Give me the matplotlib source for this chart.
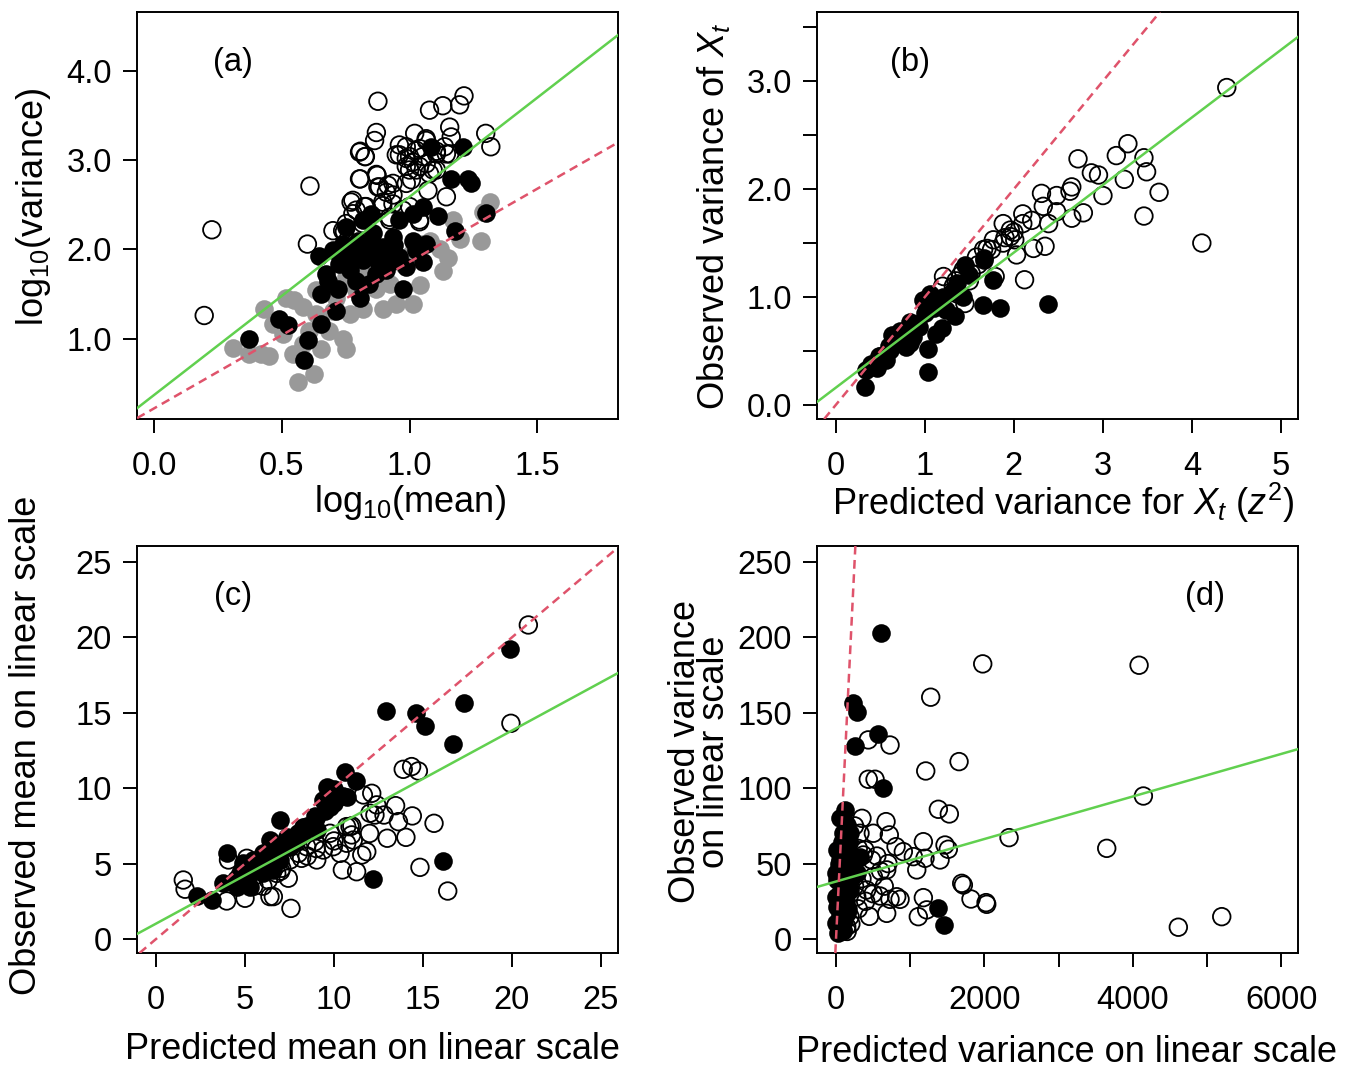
import matplotlib
matplotlib.use("Agg")
import matplotlib.pyplot as plt

plt.rcParams["font.family"] = ["Liberation Sans", "DejaVu Sans"]
plt.rcParams["mathtext.fontset"] = "custom"
plt.rcParams["mathtext.rm"] = "Liberation Sans"
plt.rcParams["mathtext.it"] = "Liberation Sans:italic"

GREEN = "#61D04F"
RED = "#DF536B"
GRAY = "#999999"

# ---- panel (a): log10(mean) vs log10(variance)
a_open_x = [0.226, 0.196, 0.61, 0.60, 0.876, 0.87, 0.863, 0.804, 0.825, 0.804, 0.87, 0.771, 0.824,
            0.778, 0.70, 0.738, 0.882, 0.909, 0.935, 0.895, 0.935, 0.96, 0.987, 1.02, 0.96, 1.0,
            1.026, 1.065, 1.078, 1.13, 1.196, 1.213, 1.157, 1.163, 1.137, 1.105, 1.298, 1.318, 1.0,
            1.039, 1.078, 1.105, 0.987, 1.072, 1.144, 1.039, 0.974, 0.922, 0.817, 0.752, 1.052,
            1.013, 1.157, 0.807, 0.827, 0.807, 0.873, 0.948, 0.987, 1.065, 1.039, 1.105, 1.144,
            0.987, 1.026, 1.065, 1.092, 1.007, 0.876, 0.915, 0.935, 0.895, 0.778, 0.791, 0.830,
            0.745, 0.922, 1.039, 1.0, 0.843]
a_open_y = [2.22, 1.26, 2.71, 2.06, 3.66, 3.31, 3.22, 3.09, 3.04, 2.79, 2.84, 2.53, 2.48,
            2.40, 2.21, 2.21, 2.70, 2.64, 2.74, 2.53, 2.51, 3.17, 3.15, 3.30, 3.06, 3.04,
            3.11, 3.24, 3.56, 3.61, 3.62, 3.72, 3.37, 3.26, 3.15, 3.07, 3.30, 3.15, 2.89,
            2.93, 2.85, 2.89, 2.74, 2.66, 2.59, 2.33, 2.44, 2.36, 2.29, 2.29, 3.04,
            2.98, 3.07, 3.10, 3.04, 2.79, 2.83, 3.06, 3.02, 3.22, 3.13, 3.10, 3.07,
            2.93, 2.89, 2.96, 2.89, 2.78, 2.70, 2.72, 2.61, 2.49, 2.55, 2.44, 2.48,
            2.20, 2.33, 2.31, 2.48, 2.10]
a_fill_x = [0.37, 0.49, 0.523, 0.601, 0.588, 0.654, 0.712, 0.654, 0.68, 0.719, 0.647, 0.70, 0.738,
            0.725, 0.765, 0.791, 0.804, 0.843, 0.778, 0.817, 0.856, 0.895, 0.935, 0.83, 0.856,
            0.817, 0.85, 0.882, 0.922, 0.96, 0.987, 1.026, 1.052, 0.974, 0.96, 1.013, 1.052,
            1.111, 1.176, 1.163, 1.229, 1.242, 1.209, 1.085, 1.30, 1.013, 1.065, 0.752, 0.673,
            0.87, 0.909, 0.80, 0.86, 0.90, 0.94, 0.76]
a_fill_y = [1.0, 1.22, 1.15, 0.98, 0.76, 1.17, 1.31, 1.50, 1.65, 1.56, 1.93, 1.99, 2.06,
            1.84, 1.77, 1.65, 1.46, 1.61, 1.95, 1.88, 1.95, 2.03, 2.14, 2.03, 2.18,
            2.33, 2.40, 1.84, 1.86, 1.91, 1.80, 1.99, 1.86, 1.56, 2.33, 2.40, 2.48,
            2.38, 2.21, 2.79, 2.79, 2.74, 3.15, 3.15, 2.41, 2.10, 2.06, 2.25, 1.73,
            1.73, 1.77, 2.10, 2.00, 1.92, 2.05, 1.90]
a_gray_x = [0.307, 0.418, 0.451, 0.431, 0.464, 0.549, 0.542, 0.562, 0.627, 0.654, 0.752, 0.738,
            0.686, 0.608, 0.582, 0.634, 0.70, 0.765, 0.817, 0.895, 0.948, 1.013, 1.039, 0.922,
            0.87, 0.817, 0.752, 1.052, 1.078, 1.118, 1.15, 1.17, 1.196, 1.281, 1.314, 1.287,
            1.13, 0.974, 0.895, 0.516, 0.503, 0.582, 0.373, 1.007, 0.712, 0.791, 0.673, 0.634]
a_gray_y = [0.90, 0.83, 0.81, 1.33, 1.16, 1.43, 0.83, 0.51, 0.60, 0.88, 0.88, 1.0,
            1.09, 1.09, 1.35, 1.54, 1.31, 1.28, 1.33, 1.33, 1.39, 1.39, 1.60, 1.61,
            1.56, 1.73, 1.69, 2.06, 2.10, 2.01, 1.90, 2.33, 2.12, 2.10, 2.53, 2.42,
            1.76, 1.84, 1.88, 1.46, 1.05, 0.94, 0.83, 1.95, 1.46, 1.54, 1.58, 1.28]
a_fit = (0.37, 2.22)    # intercept, slope (green)
a_ref = (0.22, 1.64)    # dashed red
a_xticks = [0.0, 0.5, 1.0, 1.5]
a_xlabels = ["0.0", "0.5", "1.0", "1.5"]
a_yticks = [1.0, 2.0, 3.0, 4.0]
a_ylabels = ["1.0", "2.0", "3.0", "4.0"]

# ---- panel (b): predicted vs observed variance of X_t
b_open_x = [4.39, 3.28, 3.15, 3.46, 3.49, 2.72, 2.87, 2.95, 3.24, 3.63, 3.00, 3.46, 4.11, 2.78,
            2.65, 2.65, 2.63, 2.48, 2.31, 2.33, 2.48, 2.10, 2.20, 2.39, 2.10, 2.35, 2.22, 2.03,
            1.96, 2.01, 1.77, 1.88, 1.75, 2.12, 1.58, 1.43, 1.52, 1.79, 1.21, 1.32, 1.45, 1.36,
            1.88, 1.96, 1.66, 1.20, 1.40, 1.60, 1.70, 1.90, 2.00, 1.50, 1.35]
b_open_y = [2.94, 2.42, 2.31, 2.29, 2.16, 2.28, 2.15, 2.13, 2.09, 1.97, 1.94, 1.75, 1.50, 1.78,
            1.73, 2.02, 1.98, 1.94, 1.96, 1.84, 1.79, 1.77, 1.71, 1.68, 1.68, 1.47, 1.45, 1.39,
            1.56, 1.53, 1.53, 1.50, 1.44, 1.16, 1.37, 1.25, 1.22, 1.19, 1.19, 1.10, 0.94, 1.03,
            1.68, 1.62, 1.44, 1.10, 1.20, 1.30, 1.45, 1.55, 1.60, 1.15, 1.15]
b_fill_x = [0.33, 1.04, 1.04, 1.84, 1.65, 2.38, 1.67, 1.34, 1.19, 0.83, 0.79, 0.64, 0.57, 0.46,
            0.34, 1.06, 1.13, 1.24, 0.94, 1.02, 0.72, 0.87, 0.61, 0.49, 1.36, 1.77, 1.13, 0.83,
            1.43, 0.98, 1.66, 0.63, 0.50, 0.70, 0.90, 1.10, 1.20, 1.30, 0.60, 1.00, 1.50, 1.45,
            0.40]
b_fill_y = [0.17, 0.31, 0.52, 0.90, 0.93, 0.94, 1.36, 0.82, 0.71, 0.77, 0.54, 0.62, 0.42, 0.34,
            0.32, 1.03, 0.94, 0.88, 0.72, 0.88, 0.69, 0.63, 0.51, 0.45, 1.13, 1.16, 0.66, 0.57,
            1.00, 0.97, 1.34, 0.65, 0.45, 0.60, 0.75, 0.90, 1.00, 1.05, 0.55, 0.85, 1.20, 1.30,
            0.38]
b_fit = (0.16, 0.626)
b_xticks = [0, 1, 2, 3, 4, 5]
b_xlabels = ["0", "1", "2", "3", "4", "5"]
b_yticks = [0.0, 0.5, 1.0, 1.5, 2.0, 2.5, 3.0, 3.5]
b_ylabels = ["0.0", "", "1.0", "", "2.0", "", "3.0", ""]

# ---- panel (c): predicted vs observed mean, linear scale
c_open_x = [20.92, 19.94, 13.89, 14.36, 14.74, 15.62, 14.83, 16.39, 13.46, 14.40, 13.62, 14.04,
            12.99, 12.81, 12.30, 12.12, 11.65, 12.40, 11.27, 10.47, 11.84, 11.56, 10.99, 11.08,
            10.71, 10.90, 9.96, 9.40, 9.03, 10.34, 10.71, 7.58, 6.40, 6.59, 5.0, 3.97, 1.53,
            1.63, 7.43, 6.31, 8.0, 8.46, 8.93, 7.53, 7.06, 5.66, 5.10, 4.07, 9.78, 8.18, 6.78,
            12.02, 6.0, 7.0, 9.0, 10.0, 8.5, 11.0, 12.0, 5.5]
c_open_y = [20.82, 14.30, 11.25, 11.43, 11.14, 7.67, 4.75, 3.18, 8.84, 8.16, 7.78, 6.74,
            6.68, 8.22, 8.22, 9.66, 9.55, 8.89, 4.46, 4.58, 5.79, 5.57, 6.90, 6.56,
            6.35, 7.45, 6.12, 5.90, 5.24, 5.68, 7.45, 2.03, 2.81, 2.81, 2.70, 2.52, 3.91,
            3.30, 4.03, 3.91, 5.68, 6.12, 6.45, 5.24, 4.69, 4.24, 5.35, 5.24, 7.01, 5.35, 4.35,
            8.34, 3.5, 4.5, 6.0, 6.5, 5.5, 7.5, 7.0, 3.5]
c_fill_x = [19.89, 17.32, 12.92, 14.61, 15.11, 16.67, 16.14, 12.21, 10.62, 11.24, 9.99, 9.40,
            8.93, 9.78, 6.97, 8.28, 7.90, 6.40, 3.97, 2.29, 3.13, 3.78, 4.72, 5.47, 6.03, 6.97,
            5.28, 4.53, 6.59, 7.53, 8.28, 9.03, 6.03, 4.91, 10.71, 7.34, 9.59, 5.5, 6.0, 7.0,
            8.0, 8.5, 9.0, 6.5, 7.5, 10.0, 10.5, 4.5, 5.0, 9.5]
c_fill_y = [19.21, 15.63, 15.12, 14.97, 14.15, 12.93, 5.17, 3.98, 11.09, 10.50, 9.92, 9.22,
            8.16, 8.77, 7.89, 7.01, 6.56, 6.56, 5.68, 2.85, 2.59, 3.69, 4.35, 5.24, 5.68, 5.24,
            3.47, 3.47, 4.58, 6.12, 7.45, 7.23, 4.35, 5.02, 9.44, 6.78, 10.10, 4.5, 5.0, 6.0,
            7.0, 7.5, 8.0, 5.5, 6.5, 9.0, 9.5, 4.0, 4.8, 8.5]
c_fit = (1.02, 0.64)
c_ticks = [0, 5, 10, 15, 20, 25]
c_labels = ["0", "5", "10", "15", "20", "25"]

# ---- panel (d): predicted vs observed variance, linear scale
d_open_x = [1977, 4084, 1276, 1658, 1209, 4142, 3648, 2332, 4613, 5198, 728, 435, 435, 526,
            1379, 1527, 674, 718, 809, 907, 1177, 1469, 1513, 1042, 1199, 1402, 1088, 683, 503,
            1694, 1716, 1819, 2022, 2031, 1177, 1222, 1109, 683, 863, 728, 593, 368, 323, 503,
            391, 481, 413, 279, 233, 189, 144, 818, 250, 300, 350, 400, 450, 500, 550, 300, 200,
            150, 600, 650, 700, 250, 350]
d_open_y = [182.4, 181.5, 160.3, 117.6, 111.4, 94.8, 60.1, 67.2, 7.8, 14.8, 128.6, 132, 105.9,
            105.9, 86, 82.9, 77.8, 69, 61.2, 57.9, 64.5, 62.3, 59.5, 54.6, 53.5, 52.4, 45.8,
            45.8, 41.3, 36.9, 35.8, 26.5, 24.1, 23.0, 27.4, 19.3, 14.8, 17.0, 26.3, 26.3, 28.5,
            55.7, 70.1, 70.1, 59, 52.4, 32.5, 28, 43.6, 14.8, 8.2, 28, 35, 20, 40, 25, 15, 30,
            55, 60, 10, 5, 45, 35, 50, 75, 80]
d_fill_x = [606, 233, 279, 256, 562, 629, 1379, 1460, 121, 144, 77, 189, 54, 98, 233, 9, 54, 9,
            0, 31, 98, 144, 189, 279, 2, 323, 0, 9, 77, 60, 100, 120, 150, 80, 130, 160, 60,
            100, 200, 220, 250, 40, 180, 110, 70, 140]
d_fill_y = [203.1, 156.3, 150.7, 128, 135.9, 99.9, 20.3, 9.3, 85.5, 75.6, 64.5, 70, 52.4, 45.8,
            52.4, 39.1, 30.3, 21.4, 10.4, 3.8, 6, 17, 32.5, 43.6, 28, 54.6, 43.6, 59, 14.8, 80,
            70, 60, 48, 35, 25, 20, 15, 5, 40, 55, 45, 50, 65, 12, 25, 38]
d_fit = (38.1, 0.0141)
d_xticks = [0, 1000, 2000, 3000, 4000, 5000, 6000]
d_xlabels = ["0", "", "2000", "", "4000", "", "6000"]
d_yticks = [0, 50, 100, 150, 200, 250]
d_ylabels = ["0", "50", "100", "150", "200", "250"]

MS_OPEN = 160
MS_FILL = 180
LW_PT = 1.3
TICK_FS = 23.5
LAB_FS = 26


def style(ax):
    for s in ax.spines.values():
        s.set_linewidth(1.4)
    ax.tick_params(direction="out", length=10, width=1.4, labelsize=TICK_FS)
    ax.tick_params(axis="x", pad=13)
    ax.tick_params(axis="y", pad=8)


def points(ax, ox, oy, fx, fy, gx=None, gy=None):
    if gx is not None:
        ax.scatter(gx, gy, s=MS_FILL, color=GRAY, linewidths=0, zorder=2)
    ax.scatter(ox, oy, s=MS_OPEN, facecolors="none", edgecolors="black", linewidths=LW_PT, zorder=3)
    ax.scatter(fx, fy, s=MS_FILL, color="black", linewidths=0, zorder=4)


def lines(ax, fit, ref=(0.0, 1.0)):
    ax.axline((0, fit[0]), slope=fit[1], color=GREEN, lw=1.8, zorder=5)
    ax.axline((0, ref[0]), slope=ref[1], color=RED, lw=1.8, ls=(0, (3.5, 2.2)), zorder=5)


def labels(ax, xl, yl, xpos, ypos):
    ax.set_xlabel(xl, fontsize=LAB_FS)
    ax.xaxis.set_label_coords(xpos[0], xpos[1])
    ax.xaxis.label.set_va("center")
    ax.set_ylabel(yl, fontsize=LAB_FS, linespacing=0.8)
    ax.yaxis.set_label_coords(ypos[0], ypos[1])
    ax.yaxis.label.set_va("center")


fig = plt.figure(figsize=(13.5, 10.69), dpi=100)
W, H = 0.3563, 0.3808
ax_a = fig.add_axes([0.1015, 0.608, W, H])
ax_b = fig.add_axes([0.6052, 0.608, W, H])
ax_c = fig.add_axes([0.1015, 0.1085, W, H])
ax_d = fig.add_axes([0.6052, 0.1085, W, H])

# (a)
points(ax_a, a_open_x, a_open_y, a_fill_x, a_fill_y, a_gray_x, a_gray_y)
lines(ax_a, a_fit, a_ref)
ax_a.set_xlim(-0.067, 1.816)
ax_a.set_ylim(0.10, 4.66)
ax_a.set_xticks(a_xticks, a_xlabels)
ax_a.set_yticks(a_yticks, a_ylabels)
style(ax_a)
labels(ax_a, "log$_{10}$(mean)", "log$_{10}$(variance)", (0.568, -0.205), (-0.216, 0.522))
ax_a.text(0.20, 0.877, "(a)", transform=ax_a.transAxes, fontsize=TICK_FS, ha="center", va="center")

# (b)
points(ax_b, b_open_x, b_open_y, b_fill_x, b_fill_y)
lines(ax_b, b_fit)
ax_b.set_xlim(-0.21, 5.19)
ax_b.set_ylim(-0.13, 3.64)
ax_b.set_xticks(b_xticks, b_xlabels)
ax_b.set_yticks(b_yticks, b_ylabels)
style(ax_b)
labels(ax_b, "Predicted variance for $X_t$ ($z^2$)", "Observed variance of $X_t$",
       (0.511, -0.207), (-0.216, 0.497))
ax_b.text(0.193, 0.877, "(b)", transform=ax_b.transAxes, fontsize=TICK_FS, ha="center", va="center")

# (c)
points(ax_c, c_open_x, c_open_y, c_fill_x, c_fill_y)
lines(ax_c, c_fit)
ax_c.set_xlim(-1.07, 25.96)
ax_c.set_ylim(-0.93, 26.06)
ax_c.set_xticks(c_ticks, c_labels)
ax_c.set_yticks(c_ticks, c_labels)
style(ax_c)
labels(ax_c, "Predicted mean on linear scale", "Observed mean on linear scale",
       (0.49, -0.238), (-0.229, 0.509))
ax_c.text(0.20, 0.875, "(c)", transform=ax_c.transAxes, fontsize=TICK_FS, ha="center", va="center")

# (d)
points(ax_d, d_open_x, d_open_y, d_fill_x, d_fill_y)
lines(ax_d, d_fit)
ax_d.set_xlim(-256, 6226)
ax_d.set_ylim(-9.3, 260.6)
ax_d.set_xticks(d_xticks, d_xlabels)
ax_d.set_yticks(d_yticks, d_ylabels)
style(ax_d)
labels(ax_d, "Predicted variance on linear scale", "Observed variance\non linear scale",
       (0.518, -0.245), (-0.243, 0.494))
ax_d.text(0.807, 0.875, "(d)", transform=ax_d.transAxes, fontsize=TICK_FS, ha="center", va="center")

fig.savefig("out.png", dpi=100)
